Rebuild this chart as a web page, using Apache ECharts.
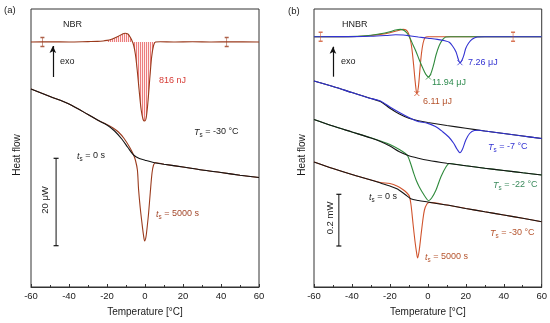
<!DOCTYPE html>
<html><head><meta charset="utf-8">
<script src="https://cdn.jsdelivr.net/npm/echarts@6/dist/echarts.min.js"></script>
<style>html,body{margin:0;padding:0;background:#fff}#c{width:550px;height:323px}</style>
</head><body><div id="c"></div>
<script>
// ---------- Data (temperature °C, heat flow in arbitrary units) ----------
const X_TICKS = [-60, -40, -20, 0, 20, 40, 60];

// Panel (a) NBR
const NBR_DIFF = [[-60,245],[-50,245.2],[-40,245],[-30,245.4],[-25,245.6],[-22,246],[-20,246.6],[-18,247.5],[-16,249],[-14,250.8],[-12,252.8],[-10.5,253.7],[-9,253],[-8,250.5],[-7,247],[-6,242],[-5,232],[-4,215],[-3,195],[-2,177],[-1,167.5],[-0.2,166],[0.6,169],[1.5,184],[2.5,208],[3.5,230],[4.5,241.5],[5.5,245],[8,245.3],[15,245],[25,245.3],[35,245],[45,245.2],[60,245]];
const NBR_DIFF_BASE = 245;
const NBR_ERR = [[-54,245],[43,245]];
const NBR_T0 = [[-60,198],[-50,190.5],[-40,183],[-30,172.5],[-25,167],[-20,162],[-16,156],[-12,147.5],[-9,139.5],[-6,132],[-3,128.5],[0,126.8],[4,124.8],[10,122.8],[20,120],[30,117],[40,114.5],[50,111.8],[60,109.5]];
const NBR_T5000 = [[-60,198],[-50,190.5],[-40,183],[-30,172.5],[-25,167],[-20,162.3],[-17,159.3],[-14,155],[-11,148.5],[-8,139.5],[-6,132],[-5,126.5],[-4,117],[-3.4,98],[-2.5,79],[-1.6,64],[-0.8,52],[-0.2,46],[0.5,50],[1.2,61],[1.9,74],[2.8,95],[3.7,114],[4.5,122],[5.5,124.3],[10,122.8],[20,120],[30,117],[40,114.5],[50,111.8],[60,109.5]];
const NBR_SCALE = [[-46.8,41.3],[-46.8,128.7]];
const NBR_EXO = [[-48.5,210],[-48.5,241]];

// Panel (b) HNBR
const RED_DIFF = [[-60,250.3],[-45,250.4],[-35,250.8],[-30,251.5],[-25,252.6],[-20,254.3],[-16,256.3],[-13,257.6],[-11.5,257],[-10.3,254],[-9.3,248],[-8.4,238],[-7.5,222],[-6.6,204],[-5.8,193.5],[-5,200],[-4.2,217],[-3.4,233],[-2.5,244],[-1.5,249.3],[0,250.3],[20,250.3],[40,250.3],[60,250.3]];
const GREEN_DIFF = [[-60,250.3],[-45,250.4],[-35,250.9],[-30,251.8],[-25,253.2],[-20,255.3],[-17,257],[-14.5,257.6],[-12.5,256.5],[-10.8,253.5],[-9.3,248.5],[-7.8,242],[-6.2,235.3],[-4.5,227],[-2.7,219],[-1,212.5],[0.3,210],[1.5,213],[3,222],[4.3,232],[6,241.5],[7.8,247.3],[9.4,250],[12,250.3],[30,250.3],[60,250.3]];
const BLUE_DIFF = [[-60,250.3],[-40,250.4],[-30,250.7],[-22,251.5],[-17,252.2],[-13,252],[-9,251],[-5,250],[0,248.8],[5,247.6],[9,246.2],[11.3,244.8],[13,241],[14.8,235.3],[16,228],[16.9,224.3],[17.9,226.5],[19,232],[20,238.7],[21.5,244],[23.5,248],[26,250],[30,250.3],[45,250.3],[60,250.3]];
const HNBR_ERR = [[-56.5,250.3],[44.9,250.3]];
const MIN_RED = [[-5.8,193.5]];
const MIN_GREEN = [[0.3,210]];
const MIN_BLUE = [[16.9,224.3]];

const B7_T0 = [[-60,206],[-50,200.5],[-40,194.5],[-30,188.5],[-25,185.5],[-20,178.8],[-15,173],[-10,168.8],[-5,166.3],[0,164.5],[10,161.5],[20,158.8],[30,156],[40,153.5],[50,151],[60,148.5]];
const B7_T5000 = [[-60,206],[-50,200.5],[-40,194.5],[-30,188.5],[-25,186],[-20,180],[-15,174.5],[-10,169.5],[-6,166],[-4.5,165.3],[0,163.6],[4,160.5],[7.8,155.3],[11,150],[13.5,144],[15.5,137.5],[16.9,134.3],[18.3,138],[20,147],[22,153.5],[24.5,156.5],[27,156.8],[30,156],[40,153.5],[50,151],[60,148.5]];
const B22_T0 = [[-60,167.5],[-50,161],[-40,155],[-30,149],[-25,145.5],[-20,141],[-15,135.3],[-10,131.3],[-5,128.8],[0,126.8],[10,123.8],[20,121.2],[30,118.8],[40,116.5],[50,114.2],[60,112]];
const B22_T5000 = [[-60,167.5],[-50,161],[-40,155],[-30,149.2],[-25,146],[-20,142.5],[-15,137.5],[-12,133.8],[-10.6,131],[-9,123],[-7.5,114],[-6.2,107],[-4.5,100],[-3,95],[-1.5,90.5],[0.4,86.3],[2,89],[4.3,97],[6.9,110.3],[9.6,120.3],[11.3,123.5],[13,123.3],[20,121.2],[30,118.8],[40,116.5],[50,114.2],[60,112]];
const B30_T0 = [[-60,125],[-50,118.5],[-40,112.5],[-30,107],[-25,104],[-20,101],[-16,98],[-12,92.5],[-9,88.3],[-5,86.5],[0,85],[10,82],[20,78.5],[30,75.2],[40,72],[50,68.7],[60,65.3]];
const B30_T5000 = [[-60,125],[-50,118.5],[-40,112.5],[-30,107],[-25,104.5],[-20,103.5],[-16,100.8],[-13.2,97.5],[-11,94],[-9.7,90.5],[-8.8,81],[-7.8,63],[-6.8,46],[-6,35],[-5.4,29],[-4.6,36],[-3.6,52],[-2.7,66],[-1.8,77],[-0.5,83],[0.8,84.6],[10,82],[20,78.5],[30,75.2],[40,72],[50,68.7],[60,65.3]];
const HNBR_SCALE = [[-46.9,41],[-46.9,92.7]];
const HNBR_EXO = [[-50,210.3],[-50,240.3]];

// ---------- Styling ----------
const F = 'Liberation Sans, Arial, sans-serif';
const C_BLACK = '#161616', C_BROWN_A = '#9a3a1c', C_RED_B = '#d0532c', C_GREEN = '#2f8a3c', C_BLUE = '#3232d2';

const pat = document.createElement('canvas'); pat.width = 2; pat.height = 2;
const pc = pat.getContext('2d');
pc.fillStyle = 'rgba(255,236,236,1)'; pc.fillRect(0,0,2,2);
pc.fillStyle = 'rgba(226,80,80,0.7)'; pc.fillRect(0,0,1,2);

function xAxis(g) {
  return {type:'value', gridIndex:g, min:-60, max:60, interval:20,
    axisLine:{show:true, lineStyle:{color:'#333', width:1}},
    axisTick:{show:true, inside:true, length:3, lineStyle:{color:'#333'}},
    minorTick:{show:true, splitNumber:2, length:2, lineStyle:{color:'#333'}},
    splitLine:{show:false},
    axisLabel:{fontSize:9.5, color:'#1a1a1a', margin:4, fontFamily:F,
      customValues: X_TICKS},
    name:'Temperature [°C]', nameLocation:'middle', nameGap:20,
    nameTextStyle:{fontSize:10, color:'#1a1a1a', fontFamily:F}};
}
function yAxis(g) { return {type:'value', gridIndex:g, min:0, max:278, show:false}; }
function line(g, data, color, z, w) {
  return {type:'line', xAxisIndex:g, yAxisIndex:g, data, showSymbol:false, symbol:'none',
    smooth:0.3, lineStyle:{color, width:w||1.1}, z:z||2, silent:true};
}
function errBars(g, data, color) {
  return {type:'scatter', xAxisIndex:g, yAxisIndex:g, data,
    symbol:'path://M0,0L6,0M3,0L3,12M0,12L6,12', symbolSize:[4,9],
    itemStyle:{color:'transparent', borderColor:color, borderWidth:1}, z:4, silent:true};
}
function cross(g, data, color) {
  return {type:'scatter', xAxisIndex:g, yAxisIndex:g, data,
    symbol:'path://M0,0L10,10M10,0L0,10', symbolSize:5,
    itemStyle:{color:'transparent', borderColor:color, borderWidth:1}, z:5, silent:true};
}
function scaleBar(g, data) {
  return {type:'line', xAxisIndex:g, yAxisIndex:g, data, showSymbol:true, symbol:'rect',
    symbolSize:[5,1.2], itemStyle:{color:'#111'}, lineStyle:{color:'#111', width:1}, z:3, silent:true};
}
function arrow(g, pts) {
  return {type:'line', xAxisIndex:g, yAxisIndex:g, data:[], silent:true,
    markLine:{silent:true, symbol:['none','arrow'], symbolSize:[5,7], animation:false,
      lineStyle:{color:'#111', width:1.2, type:'solid'}, label:{show:false},
      data:[[{coord:pts[0]},{coord:pts[1]}]]}};
}

const hatchData = NBR_DIFF.filter(p => p[0] >= -20 && p[0] <= 5.5);

function txt(x, y, text, color, rot, size) {
  const fs = size || 9;
  const rich = {
    i:{fontStyle:'italic', fontSize:fs, fontFamily:F, fill:color, color:color},
    s:{fontSize:fs*0.7, fontFamily:F, fill:color, color:color, padding:[6,0,0,0]},
    n:{fontSize:fs, fontFamily:F, fill:color, color:color}
  };
  return {type:'text', x, y, rotation: rot||0, silent:true,
    style:{text, fill:color, font:fs + 'px ' + F, fontSize:fs, fontFamily:F,
      align: rot ? 'center' : 'left', verticalAlign:'middle',
      textAlign: rot ? 'center' : 'left', textVerticalAlign:'middle', rich}};
}

const option = {
  animation:false,
  backgroundColor:'#fff',
  grid:[
    {left:31, top:9, width:228, height:278, show:true, borderColor:'#333', borderWidth:1, backgroundColor:'transparent'},
    {left:314, top:9, width:229, height:278, show:true, borderColor:'#333', borderWidth:1, backgroundColor:'transparent'}
  ],
  xAxis:[xAxis(0), xAxis(1)],
  yAxis:[yAxis(0), yAxis(1)],
  series:[
    // Panel (a)
    {type:'line', xAxisIndex:0, yAxisIndex:0, data:hatchData, showSymbol:false, symbol:'none', smooth:0.3,
      lineStyle:{width:0}, areaStyle:{origin:NBR_DIFF_BASE, color:{image:pat, repeat:'repeat'}, opacity:1}, z:1, silent:true},
    line(0, NBR_DIFF, C_BROWN_A, 3),
    errBars(0, NBR_ERR, C_BROWN_A),
    line(0, NBR_T5000, C_BROWN_A, 2),
    line(0, NBR_T0, C_BLACK, 3),
    scaleBar(0, NBR_SCALE),
    arrow(0, NBR_EXO),
    // Panel (b)
    line(1, RED_DIFF, C_RED_B, 2),
    line(1, GREEN_DIFF, C_GREEN, 3),
    line(1, BLUE_DIFF, C_BLUE, 4),
    errBars(1, HNBR_ERR, C_RED_B),
    cross(1, MIN_RED, C_RED_B),
    cross(1, MIN_GREEN, C_GREEN),
    cross(1, MIN_BLUE, C_BLUE),
    line(1, B7_T0, C_BLACK, 2),
    line(1, B7_T5000, C_BLUE, 3),
    line(1, B22_T5000, C_GREEN, 2),
    line(1, B22_T0, C_BLACK, 3),
    line(1, B30_T5000, C_RED_B, 2),
    line(1, B30_T0, C_BLACK, 3),
    scaleBar(1, HNBR_SCALE),
    arrow(1, HNBR_EXO)
  ],
  graphic:[
    txt(4, 10, '(a)', '#222', 0, 9.5),
    txt(63, 25, 'NBR', '#222'),
    txt(60, 62, 'exo', '#222'),
    txt(159, 81, '816 nJ', '#d63a34'),
    txt(194, 132, '{i|T}{s|s}{n| = -30 °C}', '#222'),
    txt(77, 156, '{i|t}{s|s}{n| = 0 s}', '#222'),
    txt(156, 214, '{i|t}{s|s}{n| = 5000 s}', '#a3472a'),
    txt(45, 200, '20 μW', '#222', Math.PI/2, 9.5),
    txt(17, 155, 'Heat flow', '#1a1a1a', Math.PI/2, 10),

    txt(288, 11, '(b)', '#222', 0, 9.5),
    txt(342, 25, 'HNBR', '#222'),
    txt(341, 62, 'exo', '#222'),
    txt(468, 63, '7.26 μJ', C_BLUE),
    txt(432, 83, '11.94 μJ', '#2e8b4e'),
    txt(423, 102, '6.11 μJ', '#b5532c'),
    txt(488, 147, '{i|T}{s|s}{n| = -7 °C}', C_BLUE),
    txt(493, 185, '{i|T}{s|s}{n| = -22 °C}', '#3a8a5c'),
    txt(369, 197, '{i|t}{s|s}{n| = 0 s}', '#222'),
    txt(490, 233, '{i|T}{s|s}{n| = -30 °C}', '#b5532c'),
    txt(425, 257, '{i|t}{s|s}{n| = 5000 s}', '#b5532c'),
    txt(330, 218, '0.2 mW', '#222', Math.PI/2, 9.5),
    txt(302, 155, 'Heat flow', '#1a1a1a', Math.PI/2, 10)
  ]
};
const chart = echarts.init(document.getElementById('c'));
chart.setOption(option);
</script>
</body></html>
